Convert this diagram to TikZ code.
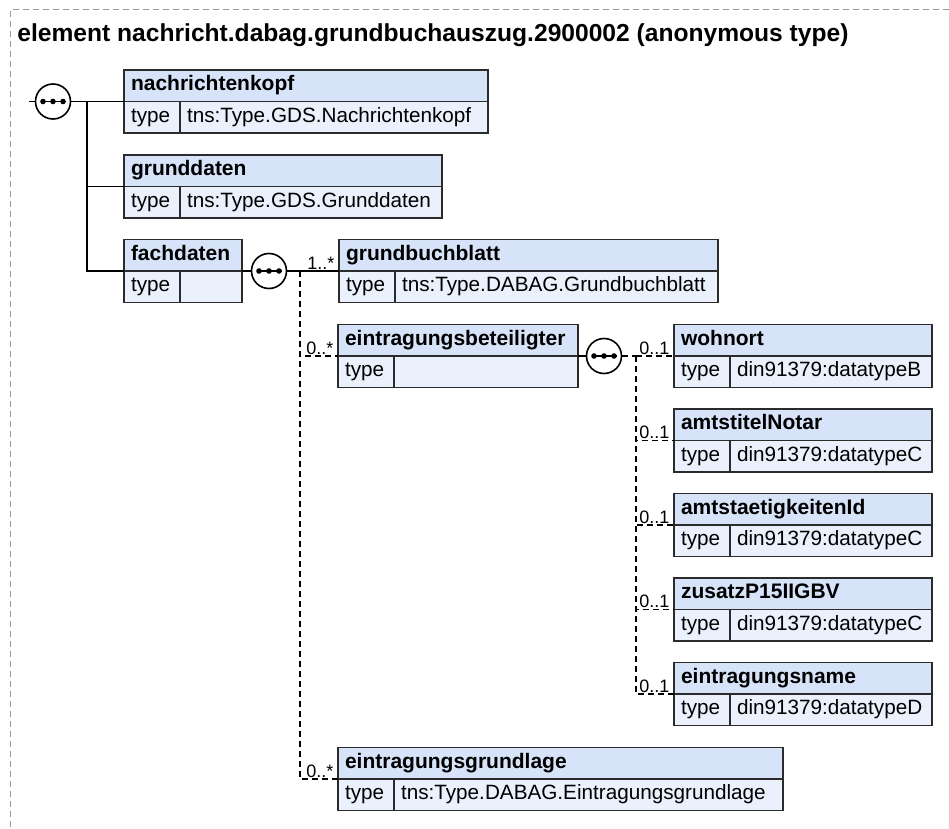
\documentclass[tikz,border=0pt]{standalone}
\usepackage{fontspec}
\setmainfont{Liberation Sans}
\usetikzlibrary{positioning}

\definecolor{hdrblue}{HTML}{D6E3F8}
\definecolor{rowblue}{HTML}{EAF1FC}
\definecolor{framegray}{HTML}{9A9A9A}
\definecolor{boxline}{HTML}{2B2B2B}

\newcommand{\elem}[6]{%
  \pgfmathsetmacro{\hw}{#4/2-7}%
  \pgfmathsetmacro{\vw}{(#4-56)/2-7}%
  \node[hdr, text width=\hw pt] (#1) at (#2,#3) {#5};
  \node[cell, text width=21pt] (#1-t) at (#1.south west) {type};
  \node[cell, text width=\vw pt] (#1-v) at (#1-t.north east) {#6};
}

\begin{document}
\begin{tikzpicture}[
    x=0.5pt, y=-0.5pt,
    hdr/.style={draw=boxline, line width=0.8pt, fill=hdrblue, anchor=north west, minimum height=15.75pt,
      outer sep=0pt, inner xsep=3.5pt, inner ysep=0pt, text height=0.74em, text depth=0.22em, align=left,
      font=\fontsize{10.5}{12}\selectfont\bfseries},
    cell/.style={draw=boxline, line width=0.8pt, fill=rowblue, anchor=north west, minimum height=15.75pt,
      outer sep=0pt, inner xsep=3.5pt, inner ysep=0pt, text height=0.74em, text depth=0.22em, align=left,
      font=\fontsize{10.35}{12}\selectfont},
    mult/.style={anchor=south east, inner sep=0.6pt, font=\fontsize{9}{10}\selectfont},
    seq/.style={circle, draw=black, line width=0.8pt, fill=white, minimum size=17.5pt, inner sep=0pt,
      path picture={
        \draw[black, line width=0.6pt] ([xshift=-6.25pt]path picture bounding box.center)
          -- ([xshift=6.25pt]path picture bounding box.center);
        \foreach \d in {-5,0,5}
          \fill[black] ([xshift=\d pt]path picture bounding box.center) circle (1.4pt);
      }},
    conn/.style={line width=0.75pt},
    opt/.style={conn, dash pattern=on 3pt off 2pt},
    frame/.style={draw=framegray, line width=0.5pt, dash pattern=on 3pt off 2pt}
]
    \useasboundingbox (0,0) rectangle (949,829);
    \draw[frame] (949,10) -- (10,10) -- (10,829);

    \node[anchor=base west, inner sep=0pt, font=\fontsize{12.3}{14}\selectfont\bfseries] (title) at (17,42)
      {element nachricht.dabag.grundbuchauszug.2900002 (anonymous type)};

    \elem{nachrichtenkopf}{124}{70}{364}{nachrichtenkopf}{tns:Type.GDS.Nachrichtenkopf}
    \elem{grunddaten}{124}{155}{318}{grunddaten}{tns:Type.GDS.Grunddaten}
    \elem{fachdaten}{124}{239.5}{118}{fachdaten}{}
    \elem{grundbuchblatt}{339}{239.5}{379}{grundbuchblatt}{tns:Type.DABAG.Grundbuchblatt}
    \elem{eintragungsbeteiligter}{338}{324.5}{240}{eintragungsbeteiligter}{}
    \elem{eintragungsgrundlage}{338}{747.5}{445}{eintragungsgrundlage}{tns:Type.DABAG.Eintragungsgrundlage}
    \foreach \n/\t [count=\i from 0] in {wohnort/din91379:datatypeB, amtstitelNotar/din91379:datatypeC,
        amtstaetigkeitenId/din91379:datatypeC, zusatzP15IIGBV/din91379:datatypeC,
        eintragungsname/din91379:datatypeD}
      \elem{\n}{674}{324.5+84.5*\i}{258}{\n}{\t};

    \node[seq] (s1) at (53,101.5) {};
    \node[seq] (s2) at (269,271) {};
    \node[seq] (s3) at (604,356) {};

    \coordinate (root) at (29,101.5);
    \coordinate (t1) at (87,101.5);
    \coordinate (t2) at (300,271);
    \coordinate (t3) at (636,356);

    \draw[conn] (root) -- (s1);
    \draw[conn] (s1) -- (nachrichtenkopf.south west);
    \draw[conn] (t1) |- (grunddaten.south west);
    \draw[conn] (t1) |- (fachdaten.south west);
    \draw[conn] (fachdaten.south east) -- (s2);
    \draw[conn] (s2) -- (grundbuchblatt.south west);
    \draw[opt] (t2) |- (eintragungsbeteiligter.south west);
    \draw[opt] (t2) |- (eintragungsgrundlage.south west);
    \draw[conn] (eintragungsbeteiligter.south east) -- (s3);
    \draw[opt] (s3) -- (t3);
    \foreach \n in {wohnort, amtstitelNotar, amtstaetigkeitenId, zusatzP15IIGBV, eintragungsname}
      \draw[opt] (t3) |- (\n.south west);

    \node[mult] (m-grundbuchblatt) at ([xshift=-1.5pt]grundbuchblatt.south west) {1..*};
    \node[mult] (m-eintragungsbeteiligter) at ([xshift=-1.5pt]eintragungsbeteiligter.south west) {0..*};
    \node[mult] (m-eintragungsgrundlage) at ([xshift=-1.5pt]eintragungsgrundlage.south west) {0..*};
    \foreach \n in {wohnort, amtstitelNotar, amtstaetigkeitenId, zusatzP15IIGBV, eintragungsname}
      \node[mult] (m-\n) at ([xshift=-1.5pt]\n.south west) {0..1};
\end{tikzpicture}
\end{document}
